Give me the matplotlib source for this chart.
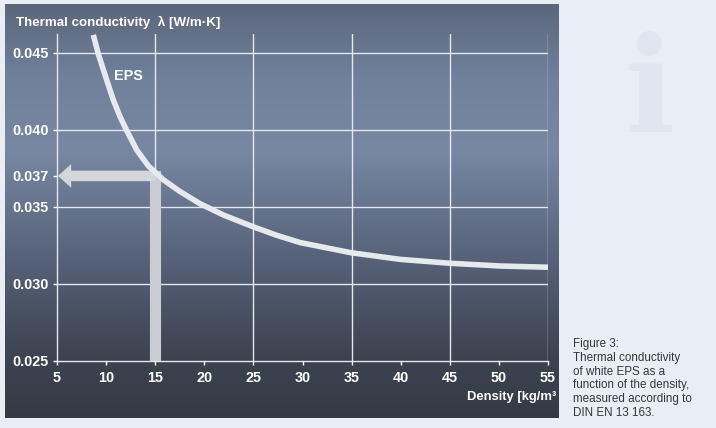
import numpy as np
import matplotlib
matplotlib.use('Agg')
import matplotlib.pyplot as plt
from matplotlib.colors import LinearSegmentedColormap

# Liberation Sans is narrower than DejaVu, closer to the condensed original
plt.rcParams['font.family'] = ['Liberation Sans', 'DejaVu Sans']
fs = 10.4
fs_cap = 8.4

# EPS curve
density = [8.70, 9.21, 10.06, 10.73, 11.42, 12.10, 13.12, 14.30, 15.83, 17.5, 19.56,
           22.0, 24.99, 27.37, 29.75, 34.94, 39.93, 44.95, 50.1, 55.0]
conductivity = [0.04614, 0.04489, 0.04322, 0.04193, 0.04084, 0.03994, 0.03868, 0.03765,
                0.03675, 0.03600, 0.03520, 0.03445, 0.03370, 0.03315, 0.03268, 0.03202,
                0.03159, 0.03134, 0.03116, 0.03108]

x_ticks = [5, 10, 15, 20, 25, 30, 35, 40, 45, 50, 55]
y_ticks = [0.025, 0.030, 0.035, 0.037, 0.040, 0.045]
y_ticklabels = ['0.025', '0.030', '0.035', '0.037', '0.040', '0.045']
grid_x = [15, 25, 35, 45, 55]
grid_y = [0.030, 0.035, 0.040, 0.045]

# example reading: 15 kg/m3 -> 0.037 W/mK
read_density = 15
read_lambda = 0.037

caption = ("Figure 3:\nThermal conductivity\nof white EPS as a\n"
           "function of the density,\nmeasured according to\nDIN EN 13 163.")

W, H = 716, 428
fig = plt.figure(figsize=(W / 100, H / 100), dpi=100, facecolor='#e9eef6')

# faint watermark
fig.text(650 / W, 1 - 95 / H, 'i', fontsize=95, fontweight='bold', color='#e0e6ef',
         ha='center', va='center', family='DejaVu Serif')

# dark gradient panel
bg = fig.add_axes([5 / W, 1 - 418 / H, 554 / W, 414 / H], zorder=0)
cmap = LinearSegmentedColormap.from_list('panel', [
    (0.0, '#5b677b'), (0.18, '#71819c'), (0.35, '#7888a3'),
    (0.6, '#58647b'), (0.85, '#3d4451'), (1.0, '#343a45')])
grad = np.linspace(0, 1, 256).reshape(-1, 1)
bg.imshow(grad, aspect='auto', cmap=cmap, extent=[0, 1, 1, 0])
bg.axis('off')

ax = fig.add_axes([57 / W, 1 - 361 / H, 491 / W, 327 / H], zorder=1)
ax.set_facecolor('none')
ax.set_xlim(5, 55)
ax.set_ylim(0.025, 0.0462)

grid_col = '#e4e8ee'
for gx in grid_x:
    ax.axvline(gx, color=grid_col, lw=1.0, zorder=1)
for gy in grid_y:
    ax.axhline(gy, color=grid_col, lw=1.0, zorder=1)

for s in ['top', 'right']:
    ax.spines[s].set_visible(False)
for s in ['left', 'bottom']:
    ax.spines[s].set_color(grid_col)
    ax.spines[s].set_linewidth(1.0)

ax.set_xticks(x_ticks)
ax.set_yticks(y_ticks)
ax.set_yticklabels(y_ticklabels)
ax.tick_params(colors='white', length=3, width=1, labelsize=fs)
ax.tick_params(axis='x', pad=4)
ax.tick_params(axis='y', pad=3)
for lab in ax.get_xticklabels() + ax.get_yticklabels():
    lab.set_fontweight('bold')
    lab.set_color('white')

# reading arrow
ax.plot([read_density, read_density], [0.025, read_lambda], color='#c9cdd3',
        lw=8, solid_capstyle='projecting', zorder=2)
ax.annotate('', xy=(5.1, read_lambda), xytext=(read_density, read_lambda),
            arrowprops=dict(arrowstyle='simple,head_width=0.9,head_length=0.5,tail_width=0.4',
                            mutation_scale=19, fc='#d3d6db', ec='none',
                            shrinkA=0, shrinkB=0), zorder=2)

# EPS curve
ax.plot(density, conductivity, color='#e6e9ee', lw=4, solid_capstyle='butt',
        solid_joinstyle='round', zorder=3)

ax.text(12.3, 0.0435, 'EPS', color='white', fontsize=fs, fontweight='bold',
        ha='center', va='center')

fig.text(16 / W, 1 - 22 / H, 'Thermal conductivity  \u03bb [W/m\u00b7K]', color='white',
         fontsize=9.6, fontweight='bold', ha='left', va='center')
fig.text(556 / W, 1 - 397 / H, 'Density [kg/m\u00b3', color='white',
         fontsize=9.4, fontweight='bold', ha='right', va='center')

fig.text(573 / W, 1 - 416 / H, caption, color='#35373b', fontsize=fs_cap,
         ha='left', va='baseline', linespacing=1.2)

fig.savefig('out.png', dpi=100, facecolor=fig.get_facecolor())
